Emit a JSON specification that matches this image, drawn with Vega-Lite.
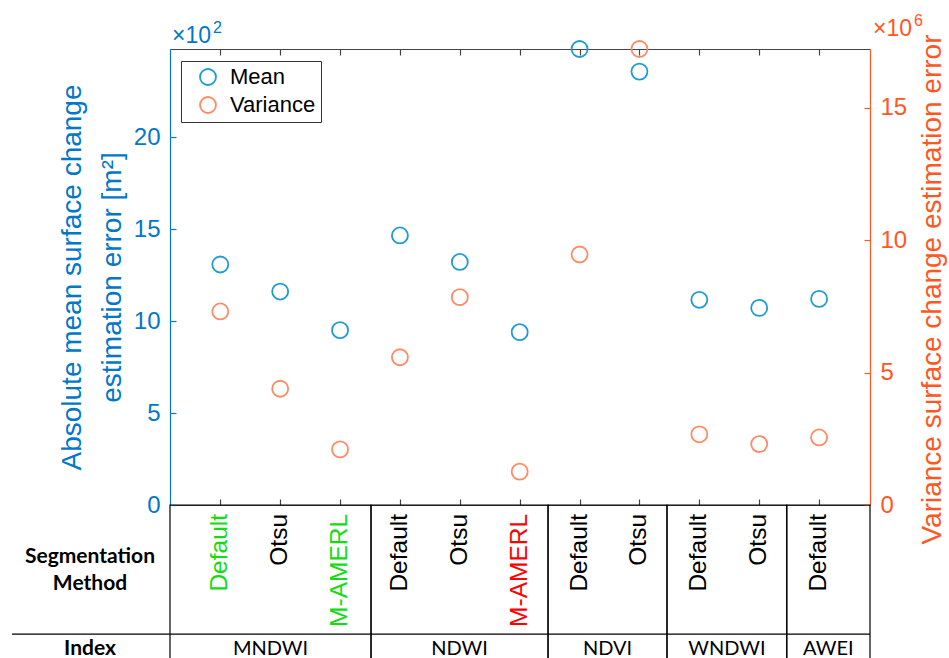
{
  "$schema": "https://vega.github.io/schema/vega-lite/v6.json",
  "background": "white",
  "padding": {"left": 11, "top": 13, "right": 0, "bottom": 0},
  "config": {"font": "Liberation Sans", "view": {"stroke": null}, "axis": {"grid": false}},
  "datasets": {
    "points": [
      {"idx": 1, "index": "MNDWI", "method": "Default", "series": "Mean", "value": 1308},
      {"idx": 2, "index": "MNDWI", "method": "Otsu", "series": "Mean", "value": 1161},
      {"idx": 3, "index": "MNDWI", "method": "M-AMERL", "series": "Mean", "value": 951},
      {"idx": 4, "index": "NDWI", "method": "Default", "series": "Mean", "value": 1466},
      {"idx": 5, "index": "NDWI", "method": "Otsu", "series": "Mean", "value": 1322},
      {"idx": 6, "index": "NDWI", "method": "M-AMERL", "series": "Mean", "value": 940},
      {"idx": 7, "index": "NDVI", "method": "Default", "series": "Mean", "value": 2480},
      {"idx": 8, "index": "NDVI", "method": "Otsu", "series": "Mean", "value": 2357},
      {"idx": 9, "index": "WNDWI", "method": "Default", "series": "Mean", "value": 1116},
      {"idx": 10, "index": "WNDWI", "method": "Otsu", "series": "Mean", "value": 1072},
      {"idx": 11, "index": "AWEI", "method": "Default", "series": "Mean", "value": 1121},
      {"idx": 1, "index": "MNDWI", "method": "Default", "series": "Variance", "value": 7310000},
      {"idx": 2, "index": "MNDWI", "method": "Otsu", "series": "Variance", "value": 4390000},
      {"idx": 3, "index": "MNDWI", "method": "M-AMERL", "series": "Variance", "value": 2100000},
      {"idx": 4, "index": "NDWI", "method": "Default", "series": "Variance", "value": 5580000},
      {"idx": 5, "index": "NDWI", "method": "Otsu", "series": "Variance", "value": 7850000},
      {"idx": 6, "index": "NDWI", "method": "M-AMERL", "series": "Variance", "value": 1260000},
      {"idx": 7, "index": "NDVI", "method": "Default", "series": "Variance", "value": 9460000},
      {"idx": 8, "index": "NDVI", "method": "Otsu", "series": "Variance", "value": 17220000},
      {"idx": 9, "index": "WNDWI", "method": "Default", "series": "Variance", "value": 2670000},
      {"idx": 10, "index": "WNDWI", "method": "Otsu", "series": "Variance", "value": 2300000},
      {"idx": 11, "index": "AWEI", "method": "Default", "series": "Variance", "value": 2550000}
    ],
    "groups": [
      {"index": "MNDWI", "lo": 0.16, "hi": 3.517},
      {"index": "NDWI", "lo": 3.517, "hi": 6.473},
      {"index": "NDVI", "lo": 6.473, "hi": 8.46},
      {"index": "WNDWI", "lo": 8.46, "hi": 10.46},
      {"index": "AWEI", "lo": 10.46, "hi": 11.85}
    ]
  },
  "vconcat": [
    {
      "width": 700,
      "height": 456,
      "layer": [
        {
          "layer": [
            {
              "data": {"name": "points"},
              "transform": [{"filter": "datum.series === 'Mean'"}],
              "mark": {"type": "point", "shape": "circle", "filled": false, "size": 256, "strokeWidth": 1.8, "opacity": 1},
              "encoding": {
                "x": {"field": "idx", "type": "quantitative", "title": null,
                  "scale": {"domain": [0.16, 11.85], "nice": false, "zero": false},
                  "axis": {"orient": "bottom", "values": [1,2,3,4,5,6,7,8,9,10,11], "labels": false, "title": null,
                    "tickSize": -6, "tickColor": "#444444", "domainColor": "#444444", "tickWidth": 1.2, "domainWidth": 1.2}},
                "y": {"field": "value", "type": "quantitative",
                  "title": ["Absolute mean surface change", "estimation error [m²]"],
                  "scale": {"domain": [0, 2480], "nice": false, "zero": true},
                  "axis": {"orient": "left", "values": [0, 500, 1000, 1500, 2000], "labelExpr": "datum.value / 100",
                    "labelFontSize": 24, "labelColor": "#0077C8", "labelPadding": 16,
                    "tickSize": -6, "tickColor": "#0077C8", "domainColor": "#0077C8", "tickWidth": 1.2, "domainWidth": 1.2,
                    "titleFontSize": 28, "titleFontWeight": "normal", "titleColor": "#0077C8", "titleLineHeight": 40, "titlePadding": 7}},
                "color": {"field": "series", "type": "nominal",
                  "scale": {"domain": ["Mean", "Variance"], "range": ["#1E9BD7", "#FF8A65"]},
                  "legend": {"orient": "none", "legendX": 11, "legendY": 12, "title": null,
                    "labelFontSize": 22, "labelColor": "black", "strokeColor": "#333333", "fillColor": "white",
                    "padding": 5, "symbolSize": 256, "symbolStrokeWidth": 1.8, "symbolType": "circle",
                    "rowPadding": 4, "labelOffset": 11, "symbolOffset": 11}}
              }
            },
            {
              "data": {"values": [{"note": "scale"}]},
              "mark": {"type": "text", "align": "left", "baseline": "alphabetic", "dx": 2, "dy": -6, "fontSize": 23, "color": "#0077C8"},
              "encoding": {
                "x": {"datum": 0.16, "type": "quantitative"},
                "y": {"datum": 2480, "type": "quantitative"},
                "text": {"value": "×10"}
              }
            },
            {
              "data": {"values": [{"note": "scale"}]},
              "mark": {"type": "text", "align": "left", "baseline": "alphabetic", "dx": 43, "dy": -16, "fontSize": 16, "color": "#0077C8"},
              "encoding": {
                "x": {"datum": 0.16, "type": "quantitative"},
                "y": {"datum": 2480, "type": "quantitative"},
                "text": {"value": "2"}
              }
            }
          ]
        },
        {
          "layer": [
            {
              "data": {"name": "points"},
              "transform": [{"filter": "datum.series === 'Variance'"}],
              "mark": {"type": "point", "shape": "circle", "filled": false, "size": 256, "strokeWidth": 1.8, "opacity": 1},
              "encoding": {
                "x": {"field": "idx", "type": "quantitative", "title": null,
                  "scale": {"domain": [0.16, 11.85], "nice": false, "zero": false},
                  "axis": {"orient": "top", "values": [1,2,3,4,5,6,7,8,9,10,11], "labels": false, "title": null,
                    "tickSize": -6, "tickColor": "#444444", "domainColor": "#444444", "tickWidth": 1.2, "domainWidth": 1.2}},
                "y": {"field": "value", "type": "quantitative",
                  "title": "Variance surface change estimation error",
                  "scale": {"domain": [0, 17220000], "nice": false, "zero": true},
                  "axis": {"orient": "right", "values": [0, 5000000, 10000000, 15000000], "labelExpr": "datum.value / 1000000",
                    "labelFontSize": 24, "labelColor": "#FF5722", "labelPadding": 16,
                    "tickSize": -6, "tickColor": "#FF5722", "domainColor": "#FF5722", "tickWidth": 1.2, "domainWidth": 1.2,
                    "titleAngle": 270, "titleBaseline": "top", "titleY": 240,
                    "titleFontSize": 28, "titleFontWeight": "normal", "titleColor": "#FF5722", "titlePadding": 12}},
                "color": {"field": "series", "type": "nominal",
                  "scale": {"domain": ["Mean", "Variance"], "range": ["#1E9BD7", "#FF8A65"]},
                  "legend": {"orient": "none", "legendX": 11, "legendY": 12, "title": null,
                    "labelFontSize": 22, "labelColor": "black", "strokeColor": "#333333", "fillColor": "white",
                    "padding": 5, "symbolSize": 256, "symbolStrokeWidth": 1.8, "symbolType": "circle",
                    "rowPadding": 4, "labelOffset": 11, "symbolOffset": 11}}
              }
            },
            {
              "data": {"values": [{"note": "scale"}]},
              "mark": {"type": "text", "align": "left", "baseline": "alphabetic", "dx": 3, "dy": -13, "fontSize": 23, "color": "#FF5722"},
              "encoding": {
                "x": {"datum": 11.85, "type": "quantitative"},
                "y": {"datum": 17220000, "type": "quantitative"},
                "text": {"value": "×10"}
              }
            },
            {
              "data": {"values": [{"note": "scale"}]},
              "mark": {"type": "text", "align": "left", "baseline": "alphabetic", "dx": 44, "dy": -23, "fontSize": 16, "color": "#FF5722"},
              "encoding": {
                "x": {"datum": 11.85, "type": "quantitative"},
                "y": {"datum": 17220000, "type": "quantitative"},
                "text": {"value": "6"}
              }
            }
          ]
        }
      ],
      "resolve": {"scale": {"y": "independent"}, "axis": {"x": "independent", "y": "independent"}}
    },
    {
      "width": 700,
      "height": 154,
      "layer": [
        {
          "data": {"name": "groups"},
          "mark": {"type": "rect", "fillOpacity": 0, "stroke": "black", "strokeWidth": 1.2},
          "encoding": {
            "x": {"field": "lo", "type": "quantitative", "scale": {"domain": [0.16, 11.85], "nice": false, "zero": false}, "axis": null},
            "x2": {"field": "hi"},
            "y": {"datum": 0, "type": "quantitative", "scale": {"domain": [0, 1], "nice": false, "reverse": true}, "axis": null},
            "y2": {"datum": 1.06}
          }
        },
        {
          "data": {"values": [{"note": "divider"}]},
          "mark": {"type": "rule", "color": "black", "strokeWidth": 1.2},
          "encoding": {
            "x": {"datum": -2.479, "type": "quantitative", "axis": null},
            "x2": {"datum": 11.85},
            "y": {"datum": 0.838, "type": "quantitative", "axis": null}
          }
        },
        {
          "data": {"name": "points"},
          "transform": [{"filter": "datum.series === 'Mean'"}],
          "mark": {"type": "text", "angle": 270, "align": "right", "baseline": "middle", "fontSize": 24.5},
          "encoding": {
            "x": {"field": "idx", "type": "quantitative", "axis": null},
            "y": {"datum": 0.058, "type": "quantitative", "axis": null},
            "text": {"field": "method"},
            "color": {
              "condition": [
                {"test": "datum.index === 'MNDWI' && datum.method !== 'Otsu'", "value": "#11DD11"},
                {"test": "datum.index === 'NDWI' && datum.method === 'M-AMERL'", "value": "#FF0000"}
              ],
              "value": "black"
            }
          }
        },
        {
          "data": {"name": "groups"},
          "transform": [{"fold": ["lo", "hi"], "as": ["edge", "pos"]}],
          "mark": {"type": "text", "font": "Lato", "fontSize": 20, "align": "center", "baseline": "middle", "color": "black"},
          "encoding": {
            "x": {"aggregate": "mean", "field": "pos", "type": "quantitative", "axis": null},
            "y": {"datum": 0.935, "type": "quantitative", "axis": null},
            "text": {"field": "index"}
          }
        },
        {
          "data": {"values": [{"note": "header"}]},
          "mark": {"type": "text", "font": "Lato", "fontWeight": "bold", "fontSize": 21, "lineBreak": "\n", "lineHeight": 27, "align": "center", "baseline": "middle", "color": "black"},
          "encoding": {
            "x": {"datum": -1.176, "type": "quantitative", "axis": null},
            "y": {"datum": 0.335, "type": "quantitative", "axis": null},
            "text": {"value": "Segmentation\nMethod"}
          }
        },
        {
          "data": {"values": [{"note": "header"}]},
          "mark": {"type": "text", "font": "Lato", "fontWeight": "bold", "fontSize": 21, "align": "center", "baseline": "middle", "color": "black"},
          "encoding": {
            "x": {"datum": -1.176, "type": "quantitative", "axis": null},
            "y": {"datum": 0.935, "type": "quantitative", "axis": null},
            "text": {"value": "Index"}
          }
        }
      ]
    }
  ],
  "spacing": 0,
  "bounds": "flush"
}
